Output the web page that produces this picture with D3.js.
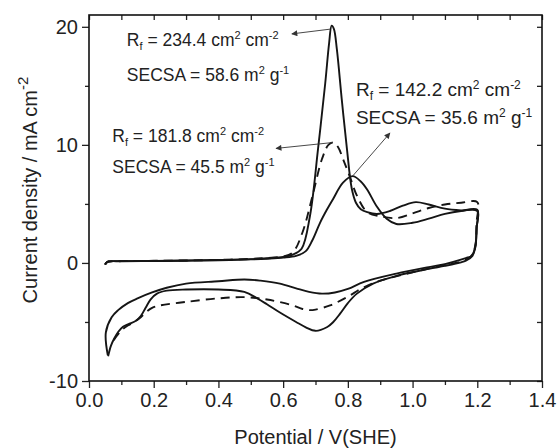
<!DOCTYPE html>
<html>
<head>
<meta charset="utf-8">
<script src="https://cdn.jsdelivr.net/npm/d3@7"></script>
<style>
  body { margin: 0; background: #fff; }
  svg { display: block; font-family: "Liberation Sans", Arial, sans-serif; }
  .tick text { fill: #222; }
</style>
</head>
<body>
<svg id="chart" width="557" height="448"></svg>
<script>
// Tick values
const xMajor = [0.0, 0.2, 0.4, 0.6, 0.8, 1.0, 1.2, 1.4];
const xMinor = [0.1, 0.3, 0.5, 0.7, 0.9, 1.1, 1.3];
const yMajor = [-10, 0, 10, 20];
const yMinor = [-5, 5, 15];

// [potential V, current mA cm-2] - anodic sweep then cathodic sweep
// R_f = 234.4 (solid, tall peak)
const curveTall = [
  [0.050,-0.15],[0.053,0.0],[0.060,0.12],[0.10,0.15],[0.20,0.17],[0.30,0.20],[0.40,0.25],
  [0.50,0.32],[0.55,0.40],[0.60,0.50],[0.63,0.70],[0.657,1.2],[0.683,4.0],[0.708,9.7],
  [0.730,15.2],[0.742,18.6],[0.750,20.1],[0.757,19.8],[0.766,18.1],[0.781,13.9],[0.797,9.7],
  [0.812,6.3],[0.825,5.1],[0.840,4.55],[0.860,4.3],[0.890,4.15],[0.930,4.4],[0.970,4.85],
  [1.010,5.15],[1.050,4.95],[1.100,4.6],[1.150,4.45],[1.200,4.4],
  [1.198,3.0],[1.194,1.4],[1.185,0.6],[1.165,0.2],[1.150,0.05],[1.100,-0.25],[1.050,-0.5],
  [0.950,-1.1],[0.878,-1.75],[0.828,-2.6],[0.800,-3.4],[0.776,-4.3],[0.755,-5.0],[0.735,-5.45],
  [0.700,-5.75],[0.670,-5.45],[0.640,-5.0],[0.590,-4.2],[0.550,-3.5],[0.520,-3.0],[0.480,-2.45],
  [0.400,-2.25],[0.300,-2.25],[0.240,-2.35],[0.210,-2.6],[0.190,-3.1],[0.175,-3.8],[0.160,-4.5],
  [0.145,-4.9],[0.125,-5.15],[0.105,-5.4],[0.090,-5.85],[0.078,-6.4],[0.068,-7.0],[0.059,-7.9]
];

// R_f = 181.8 (dashed)
const curveDash = [
  [0.050,-0.15],[0.053,0.0],[0.060,0.12],[0.10,0.15],[0.20,0.18],[0.30,0.21],[0.40,0.26],
  [0.50,0.34],[0.55,0.42],[0.60,0.55],[0.63,0.9],[0.66,2.6],[0.69,5.6],[0.72,8.8],[0.74,10.0],
  [0.755,10.2],[0.77,9.8],[0.785,8.8],[0.805,7.4],[0.828,5.7],[0.86,4.3],[0.90,3.95],[0.95,3.8],
  [1.00,4.2],[1.05,4.65],[1.10,4.95],[1.15,5.1],[1.20,5.15],
  [1.198,3.5],[1.194,1.5],[1.182,0.6],[1.160,0.2],[1.100,-0.15],[1.075,-0.3],[1.000,-0.8],
  [0.900,-1.5],[0.847,-2.1],[0.797,-2.9],[0.745,-3.6],[0.700,-3.95],[0.683,-4.0],[0.660,-3.9],
  [0.630,-3.6],[0.550,-3.1],[0.480,-2.9],[0.400,-3.0],[0.300,-3.3],[0.220,-3.6],[0.195,-3.8],
  [0.175,-4.2],[0.160,-4.6],[0.140,-5.0],[0.120,-5.3],[0.100,-5.7],[0.088,-6.1],[0.075,-6.6]
];

// R_f = 142.2 (solid, low broad peak)
const curveBump = [
  [0.050,-0.15],[0.053,0.0],[0.060,0.12],[0.10,0.14],[0.20,0.16],[0.30,0.19],[0.40,0.23],
  [0.50,0.30],[0.55,0.36],[0.60,0.45],[0.64,0.6],[0.67,1.0],[0.69,1.9],[0.714,3.4],[0.735,4.5],
  [0.754,5.4],[0.785,6.8],[0.815,7.35],[0.840,6.9],[0.860,6.2],[0.889,4.8],[0.920,3.75],
  [0.950,3.3],[1.000,3.4],[1.050,3.75],[1.100,4.15],[1.150,4.4],[1.200,4.5],
  [1.198,3.0],[1.193,1.2],[1.180,0.55],[1.170,0.46],[1.100,-0.1],[1.050,-0.35],[0.950,-0.9],
  [0.850,-1.6],[0.800,-2.2],[0.760,-2.5],[0.720,-2.6],[0.680,-2.45],[0.640,-2.15],[0.590,-1.75],
  [0.530,-1.5],[0.480,-1.4],[0.400,-1.55],[0.300,-1.75],[0.240,-2.1],[0.195,-2.5],[0.150,-3.0],
  [0.120,-3.4],[0.090,-4.0],[0.070,-4.6],[0.052,-5.9],[0.058,-7.8]
];

// annotations: text anchor (V, mA) and arrow from peak to text
const notes = [
  { rf: "234.4", secsa: "58.6", tx: 0.117, ty1: 18.4, ty2: 15.4, fs: 17.5, from: [0.745, 19.8], to: [0.627, 19.4] },
  { rf: "181.8", secsa: "45.5", tx: 0.072, ty1: 10.27, ty2: 7.65, fs: 17.5, from: [0.754, 10.2], to: [0.578, 9.7] },
  { rf: "142.2", secsa: "35.6", tx: 0.825, ty1: 14.16, ty2: 11.79, fs: 19, from: [0.816, 7.4], to: [0.930, 11.0] }
];

const W = 557, H = 448;
const margin = { top: 15, right: 15, bottom: 67, left: 89 };
const iw = W - margin.left - margin.right;
const ih = H - margin.top - margin.bottom;

const svg = d3.select("#chart");
const g = svg.append("g").attr("transform", `translate(${margin.left},${margin.top})`);

const x = d3.scaleLinear().domain([0, 1.4]).range([0, iw]);
const y = d3.scaleLinear().domain([-10, 21]).range([ih, 0]);

// axes
function styleAxis(sel) {
  sel.select(".domain").remove();
  sel.selectAll(".tick line").attr("stroke", "#222").attr("stroke-width", 1.3);
}
g.append("g").attr("transform", `translate(0,${ih})`)
  .call(d3.axisBottom(x).tickValues(xMajor).tickSize(7).tickPadding(5).tickFormat(d3.format(".1f")))
  .call(styleAxis)
  .selectAll("text").attr("font-size", 20).attr("font-family", "Liberation Sans, Arial, sans-serif");
g.append("g").attr("transform", `translate(0,${ih})`)
  .call(d3.axisBottom(x).tickValues(xMinor).tickSize(4).tickFormat(""))
  .call(styleAxis);
g.append("g")
  .call(d3.axisLeft(y).tickValues(yMajor).tickSize(7).tickPadding(4).tickFormat(d => String(d)))
  .call(styleAxis)
  .selectAll("text").attr("font-size", 20).attr("font-family", "Liberation Sans, Arial, sans-serif");
g.append("g")
  .call(d3.axisLeft(y).tickValues(yMinor).tickSize(4).tickFormat(""))
  .call(styleAxis);
// mirror ticks, inward
g.append("g")
  .call(d3.axisBottom(x).tickValues(xMajor.concat(xMinor)).tickSize(5).tickFormat(""))
  .call(styleAxis);
g.append("g").attr("transform", `translate(${iw},0)`)
  .call(d3.axisLeft(y).tickValues(yMajor.concat(yMinor)).tickSize(5).tickFormat(""))
  .call(styleAxis);

g.append("rect").attr("width", iw).attr("height", ih)
  .attr("fill", "none").attr("stroke", "#111").attr("stroke-width", 1.6);

// curves
const line = d3.line()
  .x(d => x(d[0])).y(d => y(d[1]))
  .curve(d3.curveCatmullRom.alpha(0.5));

const series = [
  { data: curveBump, dash: null },
  { data: curveTall, dash: null },
  { data: curveDash, dash: "9,6" }
];
g.selectAll("path.cv").data(series).enter().append("path")
  .attr("class", "cv")
  .attr("d", d => line(d.data))
  .attr("fill", "none")
  .attr("stroke", "#151515")
  .attr("stroke-width", 1.9)
  .attr("stroke-linejoin", "round")
  .attr("stroke-dasharray", d => d.dash);

// arrows
svg.append("defs").append("marker")
  .attr("id", "head").attr("viewBox", "0 0 10 10")
  .attr("refX", 9).attr("refY", 5)
  .attr("markerWidth", 8).attr("markerHeight", 6)
  .attr("markerUnits", "userSpaceOnUse")
  .attr("orient", "auto")
  .append("path").attr("d", "M0,0 L10,5 L0,10 Z").attr("fill", "#333");

g.selectAll("line.arrow").data(notes).enter().append("line")
  .attr("class", "arrow")
  .attr("x1", d => x(d.from[0])).attr("y1", d => y(d.from[1]))
  .attr("x2", d => x(d.to[0])).attr("y2", d => y(d.to[1]))
  .attr("stroke", "#333").attr("stroke-width", 0.9)
  .attr("marker-end", "url(#head)");

// annotation text
notes.forEach(n => {
  const sub = Math.round(n.fs * 0.62);
  const t1 = g.append("text").attr("x", x(n.tx)).attr("y", y(n.ty1))
    .attr("font-size", n.fs).attr("fill", "#222");
  t1.append("tspan").text("R");
  t1.append("tspan").attr("font-size", sub).attr("dy", 4).text("f");
  t1.append("tspan").attr("dy", -4).text(` = ${n.rf} cm`);
  t1.append("tspan").attr("font-size", sub).attr("dy", -7).text("2");
  t1.append("tspan").attr("dy", 7).text(" cm");
  t1.append("tspan").attr("font-size", sub).attr("dy", -7).text("-2");

  const t2 = g.append("text").attr("x", x(n.tx)).attr("y", y(n.ty2))
    .attr("font-size", n.fs).attr("fill", "#222");
  t2.append("tspan").text(`SECSA = ${n.secsa} m`);
  t2.append("tspan").attr("font-size", sub).attr("dy", -7).text("2");
  t2.append("tspan").attr("dy", 7).text(" g");
  t2.append("tspan").attr("font-size", sub).attr("dy", -7).text("-1");
});

// axis titles
svg.append("text")
  .attr("x", margin.left + iw / 2).attr("y", 444)
  .attr("text-anchor", "middle").attr("font-size", 20).attr("fill", "#222")
  .text("Potential / V(SHE)");

const yt = svg.append("text")
  .attr("transform", `translate(37,${margin.top + 175}) rotate(-90)`)
  .attr("text-anchor", "middle").attr("font-size", 20).attr("fill", "#222");
yt.append("tspan").text("Current density / mA cm");
yt.append("tspan").attr("font-size", 15).attr("dy", -9).text("-2");
</script>
</body>
</html>
